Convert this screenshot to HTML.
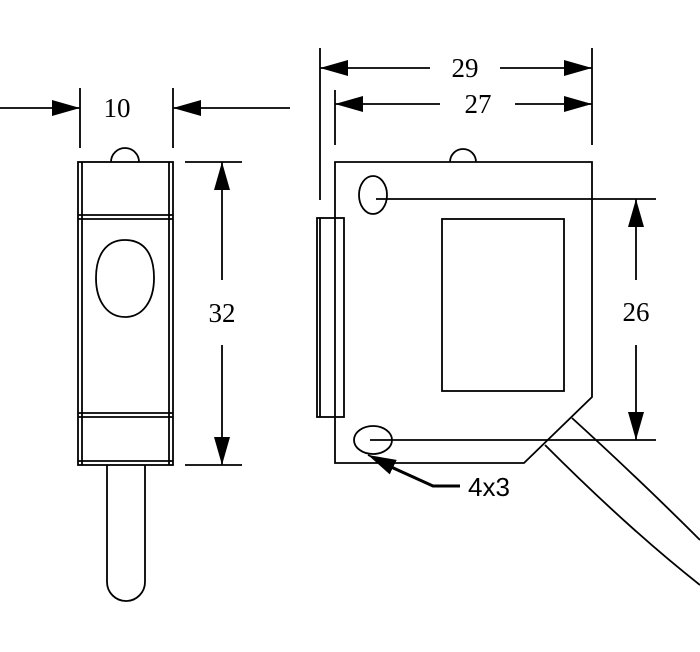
<!DOCTYPE html>
<html><head><style>body{margin:0;background:#fff}svg{display:block}text{font-family:"Liberation Serif",serif;font-size:27px}</style></head>
<body>
<svg width="700" height="652" viewBox="0 0 700 652" xmlns="http://www.w3.org/2000/svg">
<defs>
<marker id="b" viewBox="0 0 28 16" markerWidth="28" markerHeight="16" refX="28" refY="8" orient="auto" markerUnits="userSpaceOnUse"><path d="M0,0L28,8L0,16z" fill="#000"/></marker>
</defs>
<g stroke="#000" stroke-width="1.8" fill="none">
<!-- left view -->
<line x1="80" y1="88" x2="80" y2="148"/><line x1="173" y1="88" x2="173" y2="148"/>
<line x1="0" y1="108" x2="80" y2="108" marker-end="url(#b)"/>
<line x1="290" y1="108" x2="173" y2="108" marker-end="url(#b)"/>
<path d="M111,162 A14,14 0 0 1 139,162"/>
<rect x="78" y="162" width="95" height="303"/>
<line x1="82" y1="162" x2="82" y2="465"/><line x1="169" y1="162" x2="169" y2="465"/>
<line x1="78" y1="215" x2="173" y2="215"/><line x1="78" y1="219" x2="173" y2="219"/>
<line x1="78" y1="413" x2="173" y2="413"/><line x1="78" y1="417" x2="173" y2="417"/>
<line x1="78" y1="461" x2="173" y2="461"/>
<path d="M125,240 C145,240 154,255 154,278 C154,302 142,317 125,317 C108,317 96,302 96,278 C96,255 106,240 125,240Z"/>
<path d="M107,465 V582 A19,19 0 0 0 145,582 V465"/>
<line x1="185" y1="162" x2="242" y2="162"/><line x1="185" y1="465" x2="242" y2="465"/>
<line x1="222" y1="280" x2="222" y2="162" marker-end="url(#b)"/>
<line x1="222" y1="345" x2="222" y2="465" marker-end="url(#b)"/>
<!-- right view -->
<line x1="320" y1="48" x2="320" y2="200"/><line x1="592" y1="48" x2="592" y2="145"/>
<line x1="335" y1="90" x2="335" y2="145"/>
<line x1="430" y1="68" x2="320" y2="68" marker-end="url(#b)"/>
<line x1="500" y1="68" x2="592" y2="68" marker-end="url(#b)"/>
<line x1="440" y1="104" x2="335" y2="104" marker-end="url(#b)"/>
<line x1="515" y1="104" x2="592" y2="104" marker-end="url(#b)"/>
<path d="M450,162 A13,13 0 0 1 476,162"/>
<path d="M335,162 H592 V397 L524,463 H335 Z"/>
<rect x="442" y="219" width="122" height="172"/>
<rect x="317" y="218" width="27" height="199"/><line x1="320" y1="218" x2="320" y2="417"/>
<ellipse cx="373" cy="195" rx="14" ry="19"/>
<ellipse cx="373" cy="440" rx="19" ry="14"/>
<line x1="376" y1="199" x2="656" y2="199"/>
<line x1="370" y1="440" x2="656" y2="440"/>
<line x1="636" y1="280" x2="636" y2="199" marker-end="url(#b)"/>
<line x1="636" y1="345" x2="636" y2="440" marker-end="url(#b)"/>
<path d="M572,418 Q640,480 700,540"/>
<path d="M545,445 Q630,530 700,585"/>
<path d="M460,486 H433 L380,462" stroke-width="3"/>
<line x1="395" y1="468" x2="368" y2="455" marker-end="url(#b)"/>
</g>
<g text-anchor="middle" dominant-baseline="central">
<text x="117" y="108">10</text>
<text x="222" y="313">32</text>
<text x="465" y="68">29</text>
<text x="478" y="104">27</text>
<text x="636" y="312">26</text>
<text x="489" y="487" style="font-family:'Liberation Sans',sans-serif;font-size:26px">4x3</text>
</g>
</svg>
</body></html>
